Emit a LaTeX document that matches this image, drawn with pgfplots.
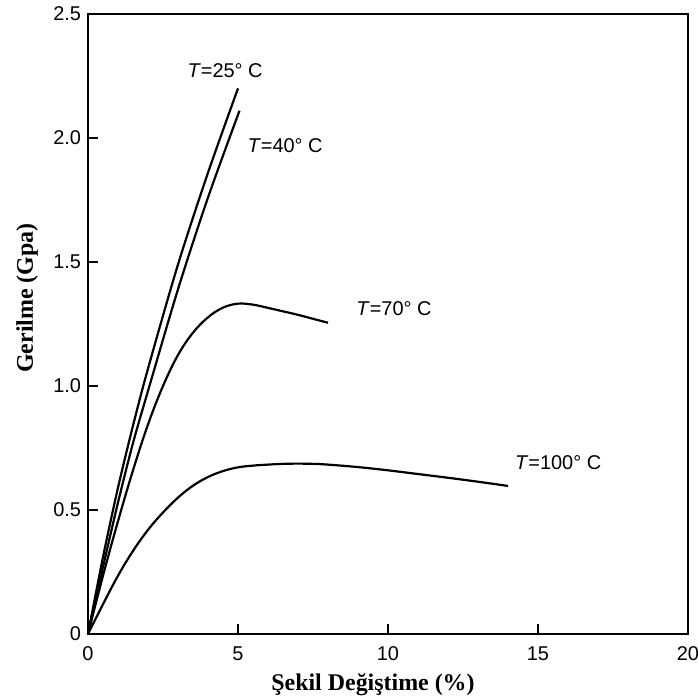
\documentclass[border=0pt]{standalone}
\usepackage{fontspec}
\setmainfont{Liberation Serif}
\setsansfont{Liberation Sans}
\usepackage{pgfplots}
\pgfplotsset{compat=1.18}
\begin{document}
\begin{tikzpicture}
\begin{axis}[
  width=300bp, height=310bp, scale only axis,
  xmin=0, xmax=20, ymin=0, ymax=2.5,
  xtick={0,5,10,15,20}, xticklabels={0,5,10,15,20},
  ytick={0,0.5,1,1.5,2,2.5}, yticklabels={0,0.5,1.0,1.5,2.0,2.5},
  tick align=inside, xtick pos=lower, ytick pos=left,
  major tick length=5bp,
  every tick/.style={black, line width=1pt},
  axis line style={line width=1.2pt},
  ticklabel style={font=\sffamily\fontsize{10}{12}\selectfont},
  xticklabel style={yshift=-3bp},
  xlabel={\textbf{Şekil Değiştime (\%)}},
  ylabel={\textbf{Gerilme (Gpa)}},
  label style={font=\fontsize{12}{14}\selectfont},
  xlabel style={at={(axis cs:9.5,-0.206)}, anchor=center},
  ylabel style={at={(axis cs:-2.03,1.355)}, anchor=center, rotate=0},
  clip=false,
]
% T = 25 C
\addplot[black, line width=1.1pt, smooth, tension=0.5] coordinates {
 (0,0) (0.5,0.31) (1.0,0.59) (1.5,0.84) (2,1.07) (3,1.49) (4,1.86) (5.0,2.20)};
% T = 40 C
\addplot[black, line width=1.1pt, smooth, tension=0.5] coordinates {
 (0,0) (0.5,0.27) (1,0.53) (1.5,0.77) (2,0.98) (3,1.39) (4,1.76) (5.05,2.11)};
% T = 70 C
\addplot[black, line width=1.1pt, smooth, tension=0.6] coordinates {
 (0,0) (0.5,0.235) (1,0.455) (1.5,0.66) (2,0.845) (2.5,1.0) (3,1.125) (3.5,1.215)
 (4,1.277) (4.5,1.316) (5,1.332) (5.5,1.328) (6,1.315) (6.5,1.301) (7,1.287) (7.5,1.271) (8,1.255)};
% T = 100 C
\addplot[black, line width=1.1pt, smooth, tension=0.6] coordinates {
 (0,0) (0.5,0.12) (1,0.235) (1.5,0.335) (2,0.42) (2.5,0.49) (3,0.55) (3.5,0.598)
 (4,0.633) (4.5,0.657) (5,0.672) (5.5,0.679) (6,0.683) (6.5,0.686) (7,0.687) (7.5,0.686)
 (8,0.683) (9,0.673) (10,0.66) (11,0.645) (12,0.63) (13,0.614) (14,0.597)};
\node[font=\sffamily\fontsize{10}{12}\selectfont] at (axis cs:4.57,2.27) {\textit{T}=25° C};
\node[font=\sffamily\fontsize{10}{12}\selectfont] at (axis cs:6.57,1.97) {\textit{T}=40° C};
\node[font=\sffamily\fontsize{10}{12}\selectfont] at (axis cs:10.2,1.31) {\textit{T}=70° C};
\node[font=\sffamily\fontsize{10}{12}\selectfont] at (axis cs:15.67,0.69) {\textit{T}=100° C};
\end{axis}
\pgfresetboundingbox
\path (current axis.south west) ++(-44bp,-33bp) rectangle ([shift={(5bp,7bp)}]current axis.north east);
\end{tikzpicture}
\end{document}
